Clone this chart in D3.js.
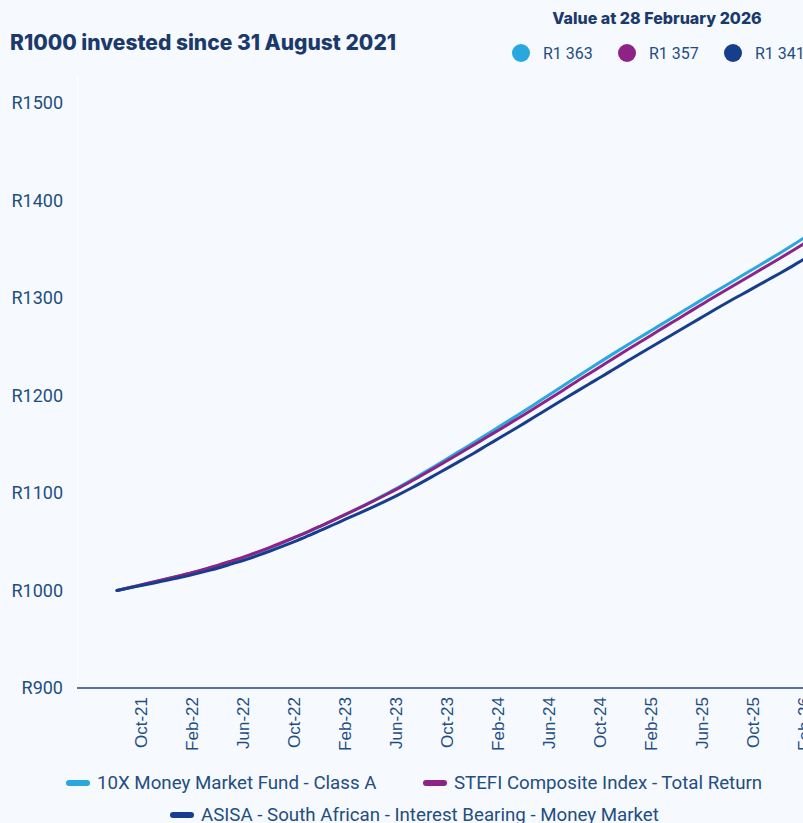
<!DOCTYPE html>
<html>
<meta charset="utf-8">
<style>
body { margin: 0; background: #f6f9fe; }
svg { display: block; background: #f6f9fe; }
.title { font: 800 21px Inter, sans-serif; fill: #1b3a6b; }
.subtitle { font: 800 16px Inter, sans-serif; fill: #1b3a6b; }
.y.axis text { font: 18px Roboto, sans-serif; fill: #1f4e80; }
.x.axis text { font: 17px "Liberation Sans", Arial, sans-serif; fill: #1f4e80; }
.axis path, .axis line { fill: none; }
.legend text { font: 18.7px Roboto, sans-serif; fill: #1f4e80; }
.values text { font: 16px Roboto, sans-serif; fill: #1f4e80; }
path.line { fill: none; stroke-width: 3; stroke-linejoin: round; stroke-linecap: round; }
</style>
<body>
<div id="chart"></div>
<script src="https://d3js.org/d3.v7.min.js"></script>
<script>

// month-end categories, 31 Aug 2021 .. 28 Feb 2026
var months = ["Aug-21","Sep-21","Oct-21","Nov-21","Dec-21",
  "Jan-22","Feb-22","Mar-22","Apr-22","May-22","Jun-22","Jul-22","Aug-22","Sep-22","Oct-22","Nov-22","Dec-22",
  "Jan-23","Feb-23","Mar-23","Apr-23","May-23","Jun-23","Jul-23","Aug-23","Sep-23","Oct-23","Nov-23","Dec-23",
  "Jan-24","Feb-24","Mar-24","Apr-24","May-24","Jun-24","Jul-24","Aug-24","Sep-24","Oct-24","Nov-24","Dec-24",
  "Jan-25","Feb-25","Mar-25","Apr-25","May-25","Jun-25","Jul-25","Aug-25","Sep-25","Oct-25","Nov-25","Dec-25",
  "Jan-26","Feb-26"];

var tickLabels = ["Oct-21","Feb-22","Jun-22","Oct-22","Feb-23","Jun-23","Oct-23",
  "Feb-24","Jun-24","Oct-24","Feb-25","Jun-25","Oct-25","Feb-26"];

var yTicks = [900, 1000, 1100, 1200, 1300, 1400, 1500];

var fund10x = [1000.0,1003.0,1006.0,1009.0,1012.1,1015.2,1018.5,1022.1,1025.9,1030.0,
  1034.3,1039.0,1044.0,1049.2,1054.7,1060.4,1066.3,1072.4,1078.6,1085.0,
  1091.5,1098.3,1105.3,1112.7,1120.4,1128.2,1136.1,1144.1,1152.1,1160.3,
  1168.4,1176.7,1184.9,1193.3,1201.7,1210.2,1218.8,1227.2,1235.5,1243.7,
  1251.8,1259.8,1267.7,1275.7,1283.6,1291.6,1299.5,1307.4,1315.2,1323.0,
  1330.8,1338.6,1346.5,1354.6,1363.0];

var stefi = [1000.0,1003.0,1006.1,1009.2,1012.3,1015.5,1018.8,1022.4,1026.2,1030.4,
  1034.7,1039.4,1044.3,1049.5,1054.9,1060.5,1066.4,1072.4,1078.5,1084.8,
  1091.1,1097.7,1104.5,1111.6,1119.0,1126.5,1134.1,1141.8,1149.5,1157.4,
  1165.2,1173.2,1181.1,1189.2,1197.4,1205.7,1214.2,1222.4,1230.6,1238.8,
  1246.9,1254.9,1262.9,1270.9,1278.8,1286.8,1294.7,1302.6,1310.3,1318.0,
  1325.7,1333.4,1341.1,1349.0,1357.0];

var asisa = [1000.0,1002.7,1005.3,1008.0,1010.8,1013.5,1016.5,1019.9,1023.4,1027.3,
  1031.3,1035.8,1040.5,1045.5,1050.7,1056.2,1061.8,1067.7,1073.6,1079.4,
  1085.3,1091.4,1097.8,1104.6,1111.7,1119.0,1126.3,1133.7,1141.1,1148.9,
  1156.6,1164.4,1172.2,1180.2,1188.2,1196.1,1204.0,1211.8,1219.5,1227.5,
  1235.3,1243.1,1250.7,1258.5,1266.1,1273.9,1281.5,1289.2,1296.7,1303.9,
  1311.1,1318.4,1325.7,1333.2,1341.0];

var seriesNames = ["10X Money Market Fund - Class A",
  "STEFI Composite Index - Total Return",
  "ASISA - South African - Interest Bearing - Money Market"];
var finalValues = ["R1 363", "R1 357", "R1 341"];
var colors = ["#29a7df", "#8d2387", "#163e8d"];

var width = 803, height = 823;
var plot = {left: 77, top: 75, bottom: 688};

var svg = d3.select("#chart").append("svg")
    .attr("width", width)
    .attr("height", height);

var x = d3.scalePoint()
    .domain(months)
    .range([117, 806]);

var y = d3.scaleLinear()
    .domain([900, 1500])
    .range([plot.bottom, 103]);

// faint white y axis line
svg.append("line")
    .attr("x1", plot.left + 0.5).attr("x2", plot.left + 0.5)
    .attr("y1", plot.top).attr("y2", plot.bottom)
    .attr("stroke", "#ffffff")
    .attr("stroke-width", 1.5);

var yAxis = d3.axisLeft(y)
    .tickValues(yTicks)
    .tickSize(0)
    .tickPadding(0)
    .tickFormat(function(d) { return "R" + d; });

svg.append("g")
    .attr("class", "y axis")
    .attr("transform", "translate(63,0)")
    .call(yAxis)
    .call(function(g) { g.select(".domain").remove(); });

var xAxis = d3.axisBottom(x)
    .tickValues(tickLabels)
    .tickSize(0);

var gx = svg.append("g")
    .attr("class", "x axis")
    .attr("transform", "translate(0," + plot.bottom + ")")
    .call(xAxis);

gx.select(".domain").remove();
gx.selectAll(".tick text")
    .attr("transform", "rotate(-90)")
    .attr("text-anchor", "end")
    .attr("x", -9)
    .attr("y", -2)
    .attr("dy", "0.35em");

svg.append("line")
    .attr("x1", plot.left).attr("x2", width)
    .attr("y1", plot.bottom).attr("y2", plot.bottom)
    .attr("stroke", "#24456f")
    .attr("stroke-width", 1.5);

var line = d3.line()
    .x(function(d, i) { return x(months[i]); })
    .y(function(d) { return y(d); })
    .curve(d3.curveMonotoneX);

[fund10x, stefi, asisa].forEach(function(s, i) {
  svg.append("path")
      .datum(s)
      .attr("class", "line")
      .attr("stroke", colors[i])
      .attr("d", line);
});

// titles
svg.append("text")
    .attr("class", "title")
    .attr("x", 10)
    .attr("y", 50)
    .text("R1000 invested since 31 August 2021");

svg.append("text")
    .attr("class", "subtitle")
    .attr("x", 657)
    .attr("y", 24)
    .attr("text-anchor", "middle")
    .text("Value at 28 February 2026");

var vals = svg.append("g").attr("class", "values");
finalValues.forEach(function(v, i) {
  var cx = 521 + i * 106;
  vals.append("circle")
      .attr("cx", cx).attr("cy", 53).attr("r", 9)
      .attr("fill", colors[i]);
  vals.append("text")
      .attr("x", cx + 22).attr("y", 59)
      .text(v);
});

// bottom legend
var legendPos = [[66, 783], [423, 783], [170, 815]];
var legend = svg.append("g").attr("class", "legend");
seriesNames.forEach(function(n, i) {
  var p = legendPos[i];
  legend.append("line")
      .attr("x1", p[0] + 3).attr("x2", p[0] + 21)
      .attr("y1", p[1]).attr("y2", p[1])
      .attr("stroke", colors[i])
      .attr("stroke-width", 6)
      .attr("stroke-linecap", "round");
  legend.append("text")
      .attr("x", p[0] + 31)
      .attr("y", p[1] + 6)
      .text(n);
});

</script>
</body>
</html>
